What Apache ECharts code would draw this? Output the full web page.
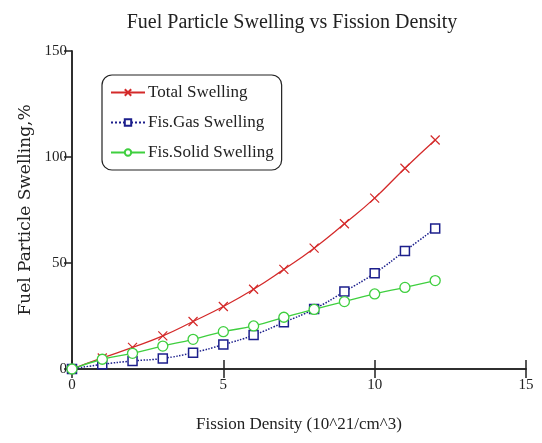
<!DOCTYPE html>
<html>
<head>
<meta charset="utf-8">
<script src="https://cdn.jsdelivr.net/npm/echarts@6/dist/echarts.min.js"></script>
<style>
  html, body { margin: 0; padding: 0; background: #fff; }
  #chart { width: 542px; height: 443px; }
</style>
</head>
<body>
<div id="chart"></div>
<script>
  // fission density, 10^21/cm^3
  var density = [0, 1, 2, 3, 4, 5, 6, 7, 8, 9, 10, 11, 12];
  // swelling, %
  var totalSwelling = [0, 5.2, 10.2, 15.6, 22.4, 29.5, 37.6, 47, 57, 68.5, 80.6, 94.7, 108];
  var gasSwelling = [0, 2.2, 3.8, 5, 7.7, 11.5, 16, 22, 28.3, 36.5, 45.2, 55.7, 66.3];
  var solidSwelling = [0, 4.6, 7.4, 10.8, 14, 17.6, 20.3, 24.4, 28.1, 31.8, 35.4, 38.5, 41.7];

  var serif = 'Liberation Serif';
  var crossPath = 'path://M0,0L10,10M10,0L0,10';

  function pairs(ys) {
    return density.map(function (x, i) { return [x, ys[i]]; });
  }

  var chart = echarts.init(document.getElementById('chart'));
  var option = {
    backgroundColor: '#fff',
    title: {
      text: 'Fuel Particle Swelling vs Fission Density',
      left: 287,
      top: 8,
      textAlign: 'center',
      textStyle: { fontFamily: serif, fontSize: 20, fontWeight: 'normal', color: '#222' }
    },
    legend: {
      orient: 'vertical',
      left: 102,
      top: 75,
      width: 181,
      padding: [9, 8, 9, 8],
      itemGap: 13,
      itemWidth: 34,
      itemHeight: 8,
      borderColor: '#222',
      borderWidth: 1.2,
      borderRadius: 10,
      textStyle: { fontFamily: serif, fontSize: 17, color: '#222', padding: [0, 0, 0, -2] },
      data: ['Total Swelling', 'Fis.Gas Swelling', 'Fis.Solid Swelling']
    },
    grid: { left: 72, right: 16, top: 51, bottom: 74 },
    xAxis: [{
      type: 'value', min: 0, max: 15, interval: 5,
      name: 'Fission Density (10^21/cm^3)',
      nameLocation: 'middle', nameGap: 47,
      nameTextStyle: { fontFamily: serif, fontSize: 17, color: '#222' },
      axisLine: { lineStyle: { color: '#222', width: 1.5 } },
      axisTick: { inside: true, length: 9, lineStyle: { color: '#222', width: 1.5 } },
      axisLabel: { fontFamily: serif, fontSize: 15, color: '#222', margin: 9 },
      splitLine: { show: false }
    }, {
      type: 'value', min: 0, max: 15, interval: 5, position: 'top',
      axisLine: { lineStyle: { color: '#222', width: 1.5 } },
      axisTick: { inside: true, length: 9, lineStyle: { color: '#222', width: 1.5 } },
      axisLabel: { show: false },
      splitLine: { show: false }
    }],
    yAxis: [{
      type: 'value', min: 0, max: 150, interval: 50,
      name: 'Fuel Particle Swelling,%',
      nameLocation: 'middle', nameGap: 38,
      nameTextStyle: { fontFamily: 'DejaVu Serif', fontSize: 17, color: '#222' },
      axisLine: { lineStyle: { color: '#222', width: 1.5 } },
      axisTick: { inside: false, length: 4, lineStyle: { color: '#222', width: 1.5 } },
      axisLabel: { fontFamily: serif, fontSize: 15, color: '#222', margin: 5 },
      splitLine: { show: false }
    }, {
      type: 'value', min: 0, max: 150, interval: 50, position: 'right',
      axisLine: { lineStyle: { color: '#222', width: 1.5 } },
      axisTick: { inside: true, length: 8, lineStyle: { color: '#222', width: 1.5 } },
      axisLabel: { show: false },
      splitLine: { show: false }
    }],
    series: [{
      name: 'Total Swelling',
      type: 'line',
      smooth: true,
      showAllSymbol: true,
      data: pairs(totalSwelling),
      symbol: crossPath,
      symbolSize: 9,
      itemStyle: { color: '#d42a2a', borderColor: '#d42a2a', borderWidth: 1.2 },
      lineStyle: { color: '#d42a2a', width: 1.3, type: 'solid' }
    }, {
      name: 'Fis.Gas Swelling',
      type: 'line',
      smooth: true,
      showAllSymbol: true,
      data: pairs(gasSwelling),
      symbol: 'rect',
      symbolSize: 9,
      itemStyle: { color: '#fff', borderColor: '#1c1f8c', borderWidth: 1.5 },
      lineStyle: { color: '#1c1f8c', width: 1.5, type: 'dotted' }
    }, {
      name: 'Fis.Solid Swelling',
      type: 'line',
      smooth: true,
      showAllSymbol: true,
      data: pairs(solidSwelling),
      symbol: 'circle',
      symbolSize: 10,
      itemStyle: { color: '#fff', borderColor: '#3fcf3f', borderWidth: 1.3 },
      lineStyle: { color: '#3fcf3f', width: 1.3, type: 'solid' }
    }]
  };
  chart.setOption(option);
</script>
</body>
</html>
